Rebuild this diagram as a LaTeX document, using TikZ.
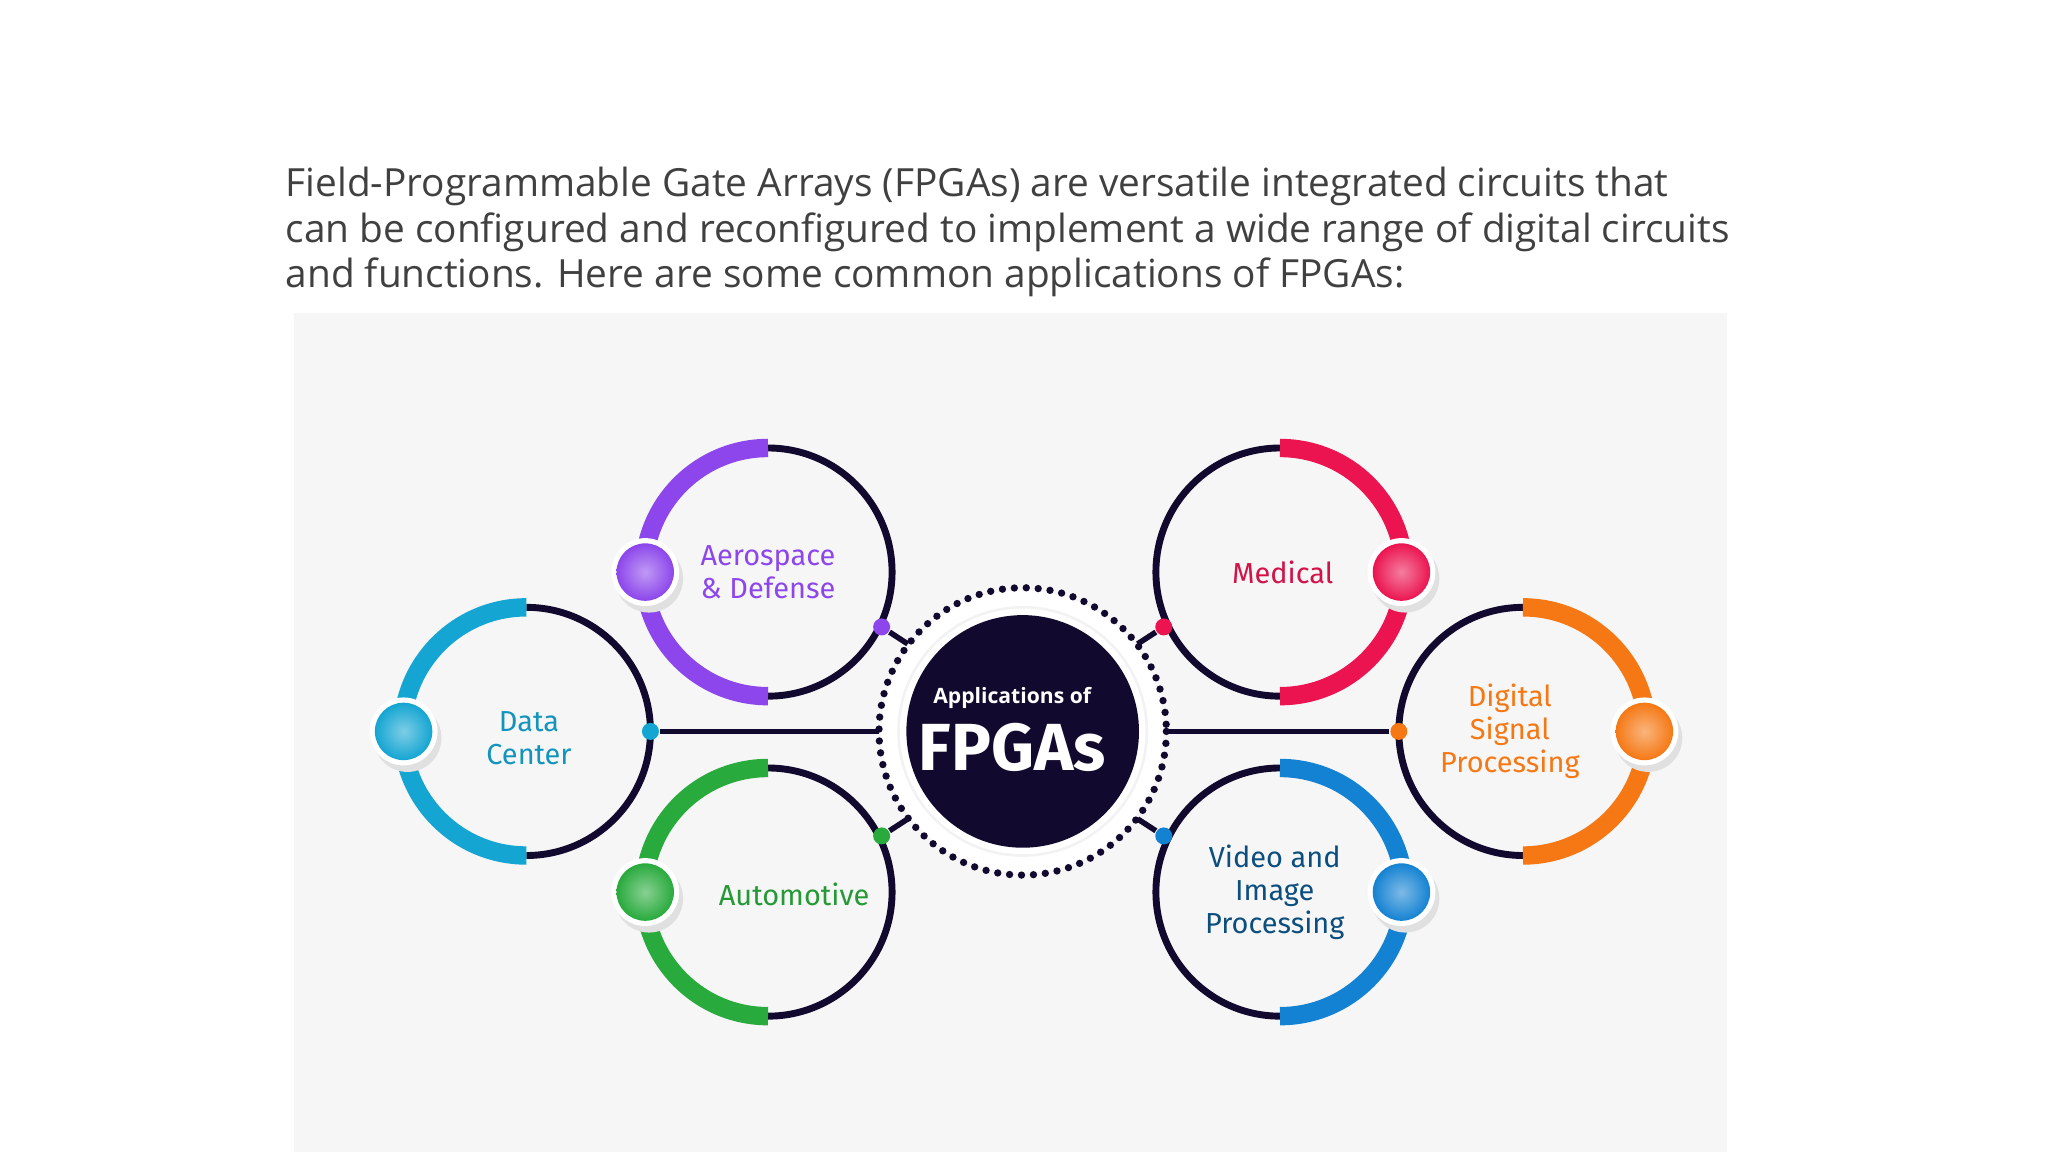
\documentclass[tikz,border=0pt]{standalone}
\usepackage{fontspec}
\setmainfont{Open Sans}
\newfontfamily\lab{Fira Sans}
\definecolor{cpur}{RGB}{140,70,235}
\definecolor{ccya}{RGB}{20,165,210}
\definecolor{cgre}{RGB}{40,170,60}
\definecolor{cred}{RGB}{235,20,80}
\definecolor{cora}{RGB}{245,120,20}
\definecolor{cblu}{RGB}{20,130,210}
\definecolor{cnav}{RGB}{18,10,46}
\begin{document}
\begin{tikzpicture}[x=0.01cm,y=-0.01cm,
  thinring/.style={draw=cnav,line width=1.5pt},
  arcc/.style={line width=4pt},
  dotc/.style={circle,minimum size=0.13cm,inner sep=0pt},
  lbl/.style={font=\lab\fontsize{6.3}{7.2}\selectfont,align=center},
  conn/.style={draw=cnav,line width=1.2pt}]
\useasboundingbox (0,0) rectangle (1568,882);
\fill[gray!7] (225,240) rectangle (1322,882);
\node[anchor=north west,align=left,inner sep=0pt,text=black!75,font=\fontsize{8.45}{9.96}\selectfont] (para) at (218,127)
{Field-Programmable Gate Arrays (FPGAs) are versatile integrated circuits that\\can be configured and reconfigured to implement a wide range of digital circuits\\and functions. Here are some common applications of FPGAs:};
\coordinate (c) at (783,560);
\fill[white] (c) circle (108);
\draw[line width=1.6pt,dash pattern=on 0pt off 2.6pt,line cap=round,cnav] (c) circle (110);
\fill[black!5] (c) circle (96);
\fill[white] (c) circle (94);
\node[circle,fill=cnav,minimum size=1.78cm,inner sep=0pt] (hub) at (c) {};
\node[text=white,font=\bfseries\fontsize{4.6}{6}\selectfont] (t1) at (775,534) {Applications of};
\node[text=white,font=\lab\bfseries\fontsize{14.5}{17}\selectfont] (t2) at (775,572) {FPGAs};
\foreach \x/\y/\col/\side in {588/438/cpur/L, 403/560/ccya/L, 588/683/cgre/L,
  980/438/cred/R, 1166/560/cora/R, 980/683/cblu/R}{
  \if\side L
    \draw[thinring] (\x,\y+95) arc (90:-90:95);
    \draw[arcc,draw=\col] (\x,\y+95) arc (90:270:95);
    \fill[black!12] (\x-91,\y+5) circle (26);
    \fill[white] (\x-94,\y) circle (26);
    \shade[inner color=\col!55,outer color=\col] (\x-94,\y) circle (22);
  \else
    \draw[thinring] (\x,\y+95) arc (90:270:95);
    \draw[arcc,draw=\col] (\x,\y+95) arc (90:-90:95);
    \fill[black!12] (\x+96,\y+5) circle (26);
    \fill[white] (\x+93,\y) circle (26);
    \shade[inner color=\col!55,outer color=\col] (\x+93,\y) circle (22);
  \fi
}
\node[lbl,text=cpur] (laero) at (588,438) {Aerospace\\\& Defense};
\node[lbl,text=ccya!90!black] (ldc) at (405,565) {Data\\Center};
\node[lbl,text=cgre!90!black] (lauto) at (608,685) {Automotive};
\node[lbl,text=cred!90!black] (lmed) at (982,438) {Medical};
\node[lbl,text=cora] (ldsp) at (1156,560) {Digital\\Signal\\Processing};
\node[lbl,text=cblu!60!black] (lvid) at (976,683) {Video and\\Image\\Processing};
\node[dotc,fill=ccya] (d1) at (498,560) {};
\node[dotc,fill=cora] (d2) at (1071,560) {};
\node[dotc,fill=cpur] (d3) at (675,480) {};
\node[dotc,fill=cgre] (d4) at (675,640) {};
\node[dotc,fill=cred] (d5) at (891,480) {};
\node[dotc,fill=cblu] (d6) at (891,640) {};
\coordinate (e1) at (673,560); \coordinate (e2) at (893,560);
\coordinate (e3) at (695,493); \coordinate (e4) at (695,627);
\coordinate (e5) at (871,493); \coordinate (e6) at (871,627);
\draw[conn] (d1) -- (e1); \draw[conn] (d2) -- (e2);
\draw[conn] (d3) -- (e3); \draw[conn] (d4) -- (e4);
\draw[conn] (d5) -- (e5); \draw[conn] (d6) -- (e6);
\end{tikzpicture}
\end{document}
